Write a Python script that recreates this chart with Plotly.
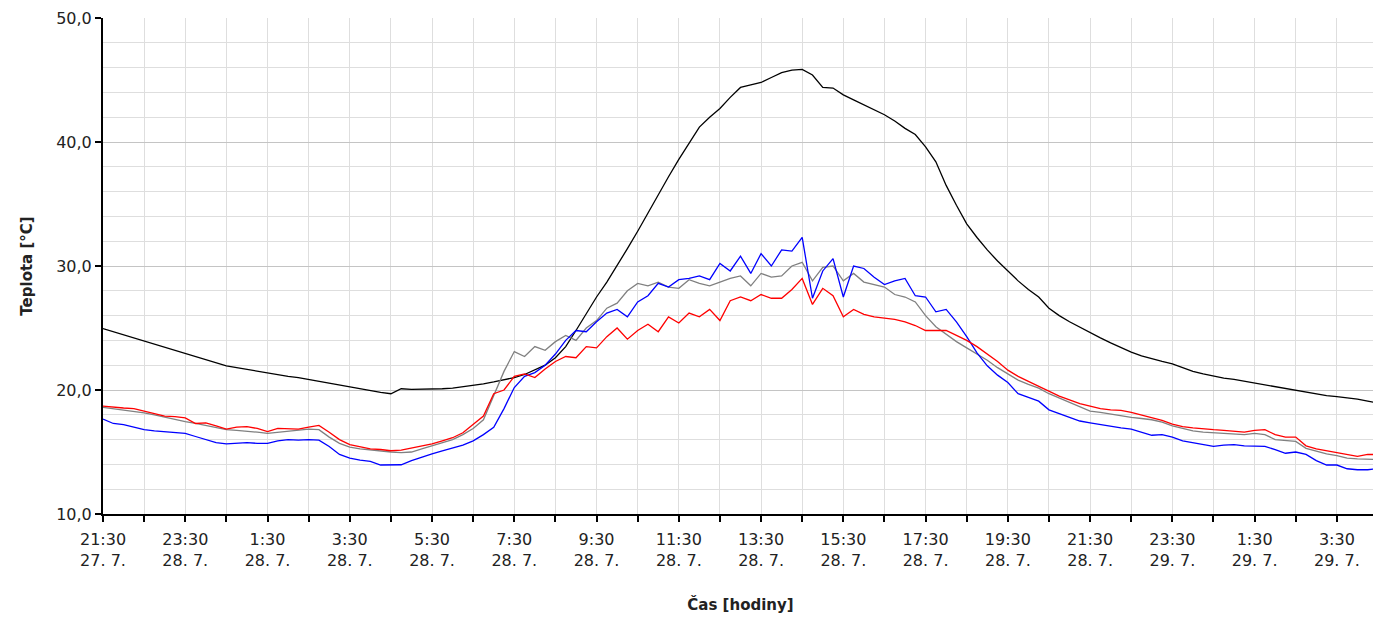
import pandas as pd
import plotly.graph_objects as go

# time base: 15-minute samples from 27.7. 21:30 to 29.7. 4:30
times = pd.date_range("2013-07-27 21:30", periods=125, freq="15min")

black = [24.95, 24.7, 24.45, 24.2, 23.95, 23.7, 23.45, 23.2, 22.9, 22.65, 22.4, 22.15,
         21.95, 21.8, 21.65, 21.5, 21.4, 21.25, 21.1, 21.0, 20.85, 20.7, 20.55, 20.4,
         20.25, 20.1, 19.9, 19.8, 19.7, 20.1, 20.05, 20.05, 20.05, 20.1, 20.15, 20.25,
         20.35, 20.5, 20.65, 20.8, 21.0, 21.25, 21.6, 22.0, 22.6, 23.5, 24.8, 26.2,
         27.5, 28.7, 30.0, 31.4, 32.8, 34.3, 35.8, 37.2, 38.6, 39.9, 41.2, 42.0,
         42.7, 43.6, 44.4, 44.6, 44.8, 45.2, 45.6, 45.8, 45.85, 45.4, 44.4, 44.35,
         43.8, 43.4, 43.0, 42.6, 42.2, 41.7, 41.1, 40.6, 39.6, 38.4, 36.5, 34.9,
         33.4, 32.3, 31.3, 30.4, 29.6, 28.8, 28.1, 27.5, 26.6, 26.0, 25.5, 25.05,
         24.65, 24.2, 23.8, 23.4, 23.05, 22.75, 22.5, 22.3, 22.1, 21.8, 21.5, 21.3,
         21.1, 20.95, 20.85, 20.7, 20.6, 20.4, 20.25, 20.1, 19.97, 19.8, 19.65, 19.55,
         19.46, 19.38, 19.26, 19.1, 18.95]

red = [18.7, 18.6, 18.55, 18.5, 18.3, 18.1, 17.9, 17.85, 17.75, 17.3, 17.35, 17.1,
       16.85, 17.0, 17.05, 16.9, 16.65, 16.9, 16.9, 16.85, 17.0, 17.15, 16.6, 16.0,
       15.6, 15.4, 15.25, 15.2, 15.1, 15.15, 15.3, 15.45, 15.65, 15.9, 16.15, 16.55,
       17.2, 17.9, 19.7, 20.0, 21.1, 21.3, 21.0, 21.7, 22.3, 22.7, 22.6, 23.5,
       23.4, 24.3, 25.0, 24.1, 24.8, 25.3, 24.7, 25.9, 25.4, 26.2, 25.9, 26.5,
       25.6, 27.2, 27.5, 27.2, 27.7, 27.4, 27.4, 28.1, 29.0, 26.9, 28.2, 27.6,
       25.9, 26.5, 26.1, 25.9, 25.8, 25.7, 25.5, 25.2, 24.8, 24.8, 24.8, 24.4,
       24.0, 23.5, 22.9, 22.3, 21.6, 21.1, 20.7, 20.3, 19.9, 19.5, 19.2, 18.9,
       18.7, 18.5, 18.4, 18.35, 18.2, 18.0, 17.8, 17.55, 17.25, 17.05, 16.95, 16.85,
       16.8, 16.75, 16.7, 16.6, 16.75, 16.8, 16.4, 16.2, 16.2, 15.5, 15.25, 15.1,
       14.95, 14.75, 14.65, 14.8, 14.8]

grey = [18.6, 18.5, 18.4, 18.3, 18.15, 18.0, 17.8, 17.6, 17.45, 17.3, 17.15, 16.95,
        16.8, 16.75, 16.7, 16.6, 16.5, 16.6, 16.7, 16.8, 16.85, 16.8, 16.2, 15.7,
        15.4, 15.25, 15.15, 15.05, 15.0, 14.95, 15.0, 15.25, 15.5, 15.75, 16.0, 16.4,
        16.9, 17.6, 19.5, 21.5, 23.1, 22.7, 23.5, 23.2, 23.9, 24.4, 24.0, 25.0,
        25.6, 26.6, 27.0, 28.0, 28.6, 28.4, 28.7, 28.3, 28.2, 28.9, 28.6, 28.4,
        28.7, 29.0, 29.2, 28.4, 29.4, 29.1, 29.2, 30.0, 30.3, 28.8, 29.9, 30.0,
        28.8, 29.4, 28.7, 28.5, 28.3, 27.7, 27.5, 27.1, 26.0, 25.1, 24.5, 23.9,
        23.4, 22.9, 22.4, 21.8, 21.3, 20.8, 20.45, 20.15, 19.7, 19.35, 18.95, 18.6,
        18.3, 18.2, 18.05, 17.95, 17.8, 17.7, 17.6, 17.4, 17.1, 16.9, 16.7, 16.6,
        16.55, 16.5, 16.45, 16.4, 16.5, 16.4, 16.0, 15.95, 15.85, 15.3, 15.05, 14.85,
        14.7, 14.5, 14.45, 14.45, 14.4]

blue = [17.65, 17.3, 17.2, 17.0, 16.8, 16.7, 16.65, 16.6, 16.5, 16.25, 16.0, 15.75,
        15.65, 15.7, 15.75, 15.7, 15.7, 15.9, 16.0, 15.95, 16.0, 15.95, 15.45, 14.8,
        14.5, 14.35, 14.25, 13.95, 13.97, 13.97, 14.3, 14.6, 14.85, 15.1, 15.3, 15.55,
        15.9, 16.4, 17.0, 18.5, 20.2, 21.1, 21.4, 22.0, 22.9, 24.0, 24.8, 24.7,
        25.5, 26.2, 26.5, 25.9, 27.1, 27.6, 28.6, 28.3, 28.9, 29.0, 29.2, 28.9,
        30.2, 29.6, 30.8, 29.4, 31.0, 30.0, 31.3, 31.2, 32.3, 27.4, 29.6, 30.6,
        27.5, 30.0, 29.8, 29.1, 28.5, 28.8, 29.0, 27.6, 27.5, 26.3, 26.5, 25.5,
        24.3, 23.0, 21.95, 21.2, 20.6, 19.7, 19.4, 19.1, 18.4, 18.1, 17.85, 17.5,
        17.35, 17.2, 17.05, 16.95, 16.85, 16.6, 16.35, 16.4, 16.2, 15.9, 15.75, 15.6,
        15.46, 15.55, 15.6, 15.5, 15.46, 15.45, 15.2, 14.9, 15.0, 14.8, 14.3, 13.95,
        13.95, 13.65, 13.57, 13.57, 13.65]

hour_ticks = pd.date_range("2013-07-27 21:30", periods=32, freq="60min")
x_tick_labels = ["21:30<br>27. 7.", "", "23:30<br>28. 7.", "", "1:30<br>28. 7.", "",
                 "3:30<br>28. 7.", "", "5:30<br>28. 7.", "", "7:30<br>28. 7.", "",
                 "9:30<br>28. 7.", "", "11:30<br>28. 7.", "", "13:30<br>28. 7.", "",
                 "15:30<br>28. 7.", "", "17:30<br>28. 7.", "", "19:30<br>28. 7.", "",
                 "21:30<br>28. 7.", "", "23:30<br>29. 7.", "", "1:30<br>29. 7.", "",
                 "3:30<br>29. 7.", ""]
y_tick_vals = [10, 20, 30, 40, 50]
y_tick_labels = ["10,0", "20,0", "30,0", "40,0", "50,0"]

fig = go.Figure()
for vals, col in [(black, "#000000"), (grey, "#808080"), (blue, "#0000ff"), (red, "#ff0000")]:
    fig.add_trace(go.Scatter(x=times, y=vals, mode="lines",
                             line=dict(color=col, width=1.3), showlegend=False,
                             hoverinfo="x+y"))

font_main = dict(family="DejaVu Sans", size=16, color="#222222")
title_font = dict(family="DejaVu Sans", size=15, color="#222222")
fig.update_layout(
    width=1373, height=611,
    margin=dict(l=95, r=3, t=10, b=105),
    paper_bgcolor="white", plot_bgcolor="white",
    font=font_main,
    xaxis=dict(
        range=[hour_ticks[0], hour_ticks[-1]],
        tickmode="array", tickvals=hour_ticks, ticktext=x_tick_labels,
        showgrid=True, gridcolor="#dedede", gridwidth=1,
        showline=True, linecolor="black", linewidth=2,
        ticks="outside", ticklen=6, tickwidth=1.5, tickcolor="black",
        ticklabelstandoff=4,
        tickfont=font_main, zeroline=False,
        title=dict(text="<b>Čas [hodiny]</b>", font=title_font, standoff=30),
        automargin=False,
    ),
    yaxis=dict(
        range=[10, 50],
        tickmode="array", tickvals=y_tick_vals, ticktext=y_tick_labels,
        showgrid=True, gridcolor="#c4c4c4", gridwidth=1,
        minor=dict(dtick=2, showgrid=True, gridcolor="#dedede", gridwidth=1, ticklen=0),
        showline=True, linecolor="black", linewidth=2,
        ticks="outside", ticklen=6, tickwidth=1.5, tickcolor="black",
        tickfont=font_main, zeroline=False,
        title=dict(text="<b>Teplota [°C]</b>", font=title_font, standoff=20),
        automargin=False,
    ),
)

fig.write_html("out.html")
